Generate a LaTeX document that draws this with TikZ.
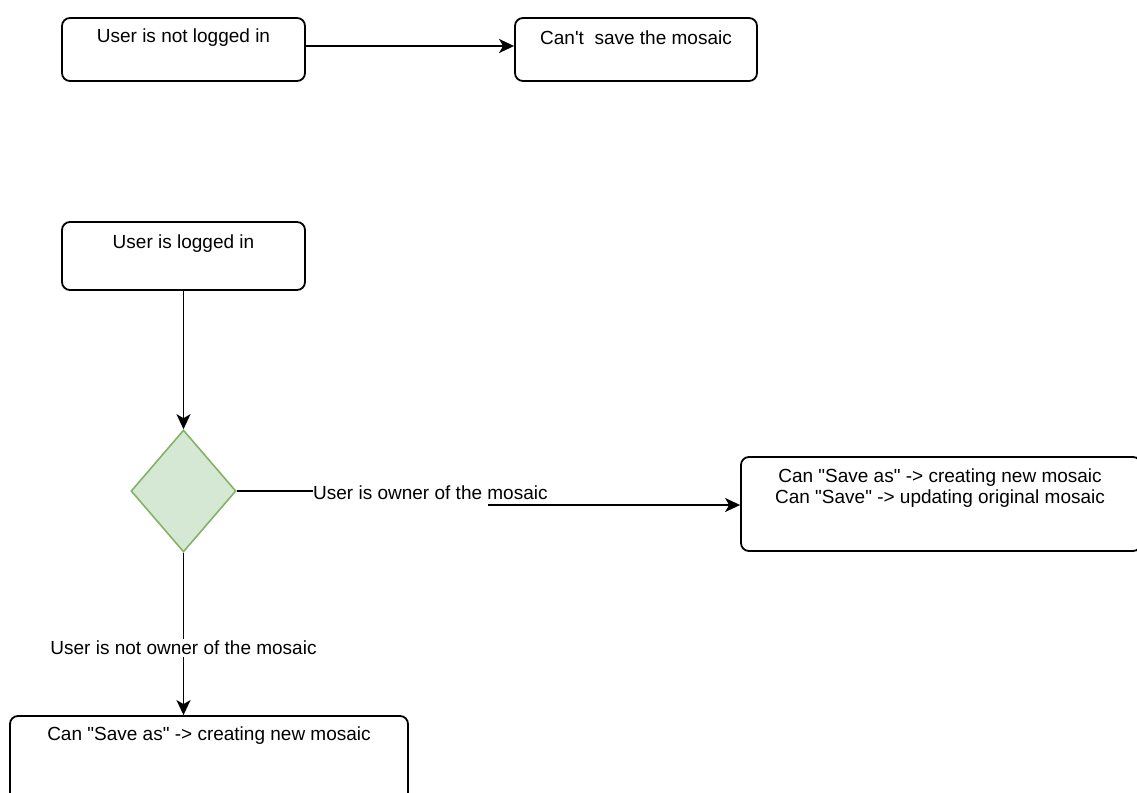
\documentclass[tikz,border=0pt]{standalone}
\usepackage{fontspec}
\newfontfamily\flowfont{Liberation Sans}
\usetikzlibrary{shapes.geometric,arrows.meta}
\definecolor{decfill}{HTML}{D5E8D4}
\definecolor{decline}{HTML}{82B366}
\tikzset{
  box/.style={draw, rounded corners=8pt, line width=1.8pt, fill=white, inner sep=0pt},
  txt/.style={font=\flowfont\fontsize{19}{21}\selectfont, inner sep=1pt, align=center},
  arr/.style={line width=1.8pt, -{Stealth[length=15pt,width=14pt,inset=4pt]}},
  plain/.style={line width=1.8pt},
}
\begin{document}
\begin{tikzpicture}[x=1pt,y=-1pt]
\useasboundingbox (0,0) rectangle (1137,792);
\clip (0,0) rectangle (1137,792);

% top row: not logged in
\node[box, minimum width=243pt, minimum height=63pt] (nl) at (183.5,49.5) {};
\node[txt] (nlt) at (183.5,38) {User is not logged in};
\node[box, minimum width=242pt, minimum height=63pt] (cs) at (636,49.5) {};
\node[txt] (cst) at (636,38) {Can't\ \ save the mosaic};
\draw[arr] ([yshift=3.5pt]nl.east) -- ([yshift=3.5pt]cs.west);

% logged in
\node[box, minimum width=243pt, minimum height=68pt] (li) at (183.5,256) {};
\node[txt] (lit) at (183.5,244) {User is logged in};

% decision
\node[diamond, draw=decline, fill=decfill, line width=1.6pt, inner sep=0pt,
      minimum width=105pt, minimum height=122pt] (d) at (183.5,491) {};
\draw[arr] (li.south) -- (d.north);

% owner branch
\node[box, minimum width=400pt, minimum height=94pt] (r) at (941,504) {};
\node[txt] (rt) at (940,488) {Can "Save as" -> creating new mosaic\\Can "Save" -> updating original mosaic};
\node[txt, anchor=west, inner sep=0pt] (own) at (313,493) {User is owner of the mosaic};
\draw[plain] (d.east) -- (own.west |- d.east);
\coordinate (j) at (488,505);
\draw[arr] (j) -- (r.west |- j);

% not owner branch
\node[box, minimum width=398pt, minimum height=90pt] (b) at (209,761) {};
\node[txt] (bt) at (209,736) {Can "Save as" -> creating new mosaic};
\draw[arr] (d.south) -- (d.south |- b.north);
\node[txt, fill=white, inner sep=2pt] (nown) at (183.5,648) {User is not owner of the mosaic};
\end{tikzpicture}
\end{document}
